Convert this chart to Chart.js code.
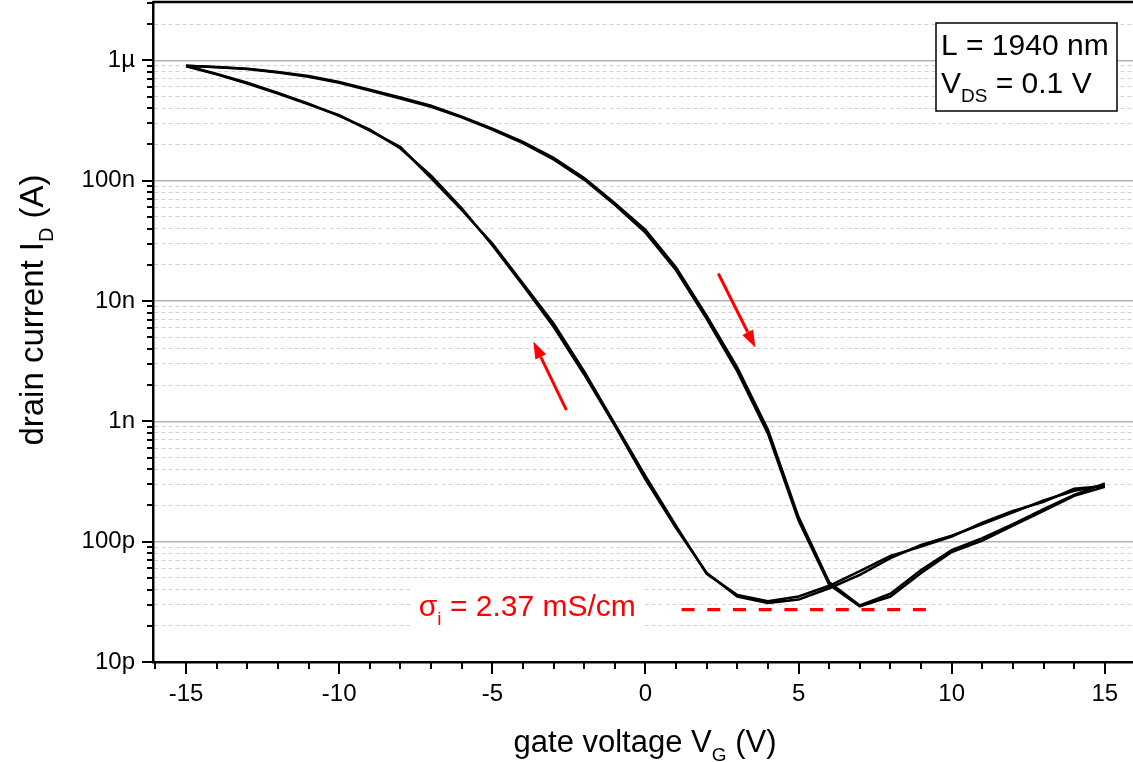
<!DOCTYPE html>
<html>
<head>
<meta charset="utf-8">
<script src="https://cdn.jsdelivr.net/npm/chart.js@4.4.0/dist/chart.umd.min.js"></script>
<style>
  html, body { margin: 0; padding: 0; background: #fff; }
  #wrap { width: 1133px; height: 762px; }
</style>
</head>
<body>
<div id="wrap"><canvas id="chartCanvas" width="1133" height="762"></canvas></div>
<script>
// --- data (two gate sweeps, forward + backward) ---
const gateVoltage = [-15, -14, -13, -12, -11, -10, -9, -8, -7, -6, -5, -4, -3, -2, -1, 0,
  1, 2, 3, 4, 5, 6, 7, 8, 9, 10, 11, 12, 13, 14, 15];

// forward sweeps (-15 V -> 15 V), drain current in A
const fwdSweep1 = [9.0e-7, 8.8e-7, 8.5e-7, 8.0e-7, 7.4e-7, 6.6e-7, 5.7e-7, 4.9e-7, 4.2e-7, 3.4e-7,
  2.7e-7, 2.1e-7, 1.55e-7, 1.05e-7, 6.5e-8, 3.9e-8, 1.9e-8, 7.5e-9, 2.8e-9, 8.5e-10,
  1.6e-10, 4.6e-11, 2.95e-11, 3.7e-11, 5.8e-11, 8.5e-11, 1.07e-10, 1.4e-10, 1.86e-10, 2.45e-10, 3.05e-10];
const fwdSweep2 = [9.0e-7, 8.75e-7, 8.45e-7, 7.9e-7, 7.3e-7, 6.5e-7, 5.6e-7, 4.8e-7, 4.1e-7, 3.35e-7,
  2.65e-7, 2.05e-7, 1.5e-7, 1.02e-7, 6.3e-8, 3.7e-8, 1.8e-8, 7.1e-9, 2.6e-9, 7.9e-10,
  1.5e-10, 4.4e-11, 2.9e-11, 3.5e-11, 5.5e-11, 8.2e-11, 1.02e-10, 1.36e-10, 1.8e-10, 2.4e-10, 2.85e-10];

// backward sweeps (15 V -> -15 V), listed in the same voltage order as gateVoltage
const bwdSweep1 = [8.9e-7, 7.65e-7, 6.4e-7, 5.3e-7, 4.3e-7, 3.5e-7, 2.6e-7, 1.9e-7, 1.05e-7, 5.7e-8,
  3.0e-8, 1.4e-8, 6.5e-9, 2.6e-9, 9.5e-10, 3.5e-10, 1.35e-10, 5.4e-11, 3.6e-11, 3.2e-11,
  3.5e-11, 4.3e-11, 5.7e-11, 7.6e-11, 9.1e-11, 1.1e-10, 1.44e-10, 1.8e-10, 2.14e-10, 2.75e-10, 2.9e-10];
const bwdSweep2 = [9.0e-7, 7.7e-7, 6.5e-7, 5.35e-7, 4.35e-7, 3.45e-7, 2.65e-7, 1.85e-7, 1.1e-7, 5.9e-8,
  2.9e-8, 1.35e-8, 6.1e-9, 2.45e-9, 9.2e-10, 3.3e-10, 1.3e-10, 5.5e-11, 3.5e-11, 3.1e-11,
  3.3e-11, 4.1e-11, 5.3e-11, 7.3e-11, 9.4e-11, 1.12e-10, 1.4e-10, 1.75e-10, 2.2e-10, 2.65e-10, 2.95e-10];

// axes
const xRange = [-16.08, 15.92];
const yRange = [1e-11, 3.05e-6];
const yDecades = [1e-11, 1e-10, 1e-9, 1e-8, 1e-7, 1e-6];
const yDecadeLabels = ["10p", "100p", "1n", "10n", "100n", "1µ"];

// red annotations
const sigmaLineV = [1.18, 9.25];
const sigmaLevel = 2.72e-11;
const sigmaLabelAt = [-7.4, 2.4e-11];
const arrowTails = [[-2.58, 1.24e-9], [2.38, 1.69e-8]];
const arrowHeads = [[-3.66, 4.6e-9], [3.59, 4.11e-9]];

const FONT = "'Liberation Sans', Arial, Helvetica, sans-serif";
Chart.defaults.font.family = FONT;
Chart.defaults.color = "#000";

const isDecade = v => Math.abs(Math.log10(v) - Math.round(Math.log10(v))) < 1e-6;

function sweep(values, reverse) {
  const pts = gateVoltage.map((v, i) => ({ x: v, y: values[i] }));
  return reverse ? pts.reverse() : pts;
}

const curveStyle = { borderColor: "#000", borderWidth: 2.5, pointRadius: 0, fill: false, tension: 0 };

// draw text made of normal and subscript parts
function subText(ctx, parts, x, y, size, align) {
  const subSize = Math.round(size * 0.62);
  const widths = parts.map(p => {
    ctx.font = `${p.sub ? subSize : size}px ${FONT}`;
    return ctx.measureText(p.t).width;
  });
  const total = widths.reduce((a, b) => a + b, 0);
  let cx = align === "center" ? x - total / 2 : x;
  ctx.textAlign = "left";
  ctx.textBaseline = "alphabetic";
  parts.forEach((p, i) => {
    ctx.font = `${p.sub ? subSize : size}px ${FONT}`;
    ctx.fillText(p.t, cx, p.sub ? y + size * 0.3 : y);
    cx += widths[i];
  });
  return total;
}

const annotations = {
  id: "annotations",
  beforeDatasetsDraw(chart) {
    const { ctx, chartArea: a, scales: { x, y } } = chart;
    ctx.save();
    ctx.fillStyle = "#fff";
    // white backing of the parameter box
    ctx.fillRect(a.right - 197, a.top + 21, 181, 88);
    // white backing of the sigma label
    const lx = x.getPixelForValue(sigmaLabelAt[0]);
    const ly = y.getPixelForValue(sigmaLabelAt[1]);
    ctx.fillRect(lx - 6, ly - 29, 232, 54);
    ctx.restore();
  },
  afterDraw(chart) {
    const { ctx, chartArea: a, scales: { x, y } } = chart;
    ctx.save();

    // tick marks: long on labelled ticks, short on minor ones
    ctx.strokeStyle = "#000";
    ctx.lineWidth = 2;
    x.ticks.forEach(t => {
      const px = Math.round(x.getPixelForValue(t.value));
      const len = t.value % 5 === 0 ? 12 : 7;
      ctx.beginPath(); ctx.moveTo(px, a.bottom); ctx.lineTo(px, a.bottom + len); ctx.stroke();
    });
    y.ticks.forEach(t => {
      const py = Math.round(y.getPixelForValue(t.value));
      const len = isDecade(t.value) ? 11 : 6;
      ctx.beginPath(); ctx.moveTo(a.left, py); ctx.lineTo(a.left - len, py); ctx.stroke();
    });

    // top frame line
    ctx.lineWidth = 2.5;
    ctx.beginPath(); ctx.moveTo(a.left, a.top); ctx.lineTo(a.right, a.top); ctx.stroke();

    // axis titles
    ctx.fillStyle = "#000";
    subText(ctx, [{ t: "gate voltage V" }, { t: "G", sub: true }, { t: " (V)" }], 645, 752, 31, "center");
    ctx.save();
    ctx.translate(43, 310);
    ctx.rotate(-Math.PI / 2);
    subText(ctx, [{ t: "drain current I" }, { t: "D", sub: true }, { t: " (A)" }], 0, 0, 33, "center");
    ctx.restore();

    // parameter box
    const bx = a.right - 197, by = a.top + 21;
    ctx.strokeStyle = "#000";
    ctx.lineWidth = 1.5;
    ctx.strokeRect(bx, by, 181, 88);
    subText(ctx, [{ t: "L = 1940 nm" }], bx + 5, by + 32, 30, "left");
    subText(ctx, [{ t: "V" }, { t: "DS", sub: true }, { t: " = 0.1 V" }], bx + 5, by + 70, 30, "left");

    // sigma label
    ctx.fillStyle = "#ff0000";
    subText(ctx, [{ t: "σ" }, { t: "i", sub: true }, { t: " = 2.37 mS/cm" }],
      x.getPixelForValue(sigmaLabelAt[0]), y.getPixelForValue(sigmaLabelAt[1]), 30, "left");

    // sweep direction arrows
    ctx.strokeStyle = "#ff0000";
    ctx.lineWidth = 3;
    arrowTails.forEach((tail, i) => {
      const x0 = x.getPixelForValue(tail[0]), y0 = y.getPixelForValue(tail[1]);
      const x1 = x.getPixelForValue(arrowHeads[i][0]), y1 = y.getPixelForValue(arrowHeads[i][1]);
      const ang = Math.atan2(y1 - y0, x1 - x0);
      const hl = 17, hw = 6;
      const bx0 = x1 - hl * Math.cos(ang), by0 = y1 - hl * Math.sin(ang);
      ctx.beginPath(); ctx.moveTo(x0, y0); ctx.lineTo(bx0, by0); ctx.stroke();
      ctx.beginPath();
      ctx.moveTo(x1, y1);
      ctx.lineTo(bx0 + hw * Math.sin(ang), by0 - hw * Math.cos(ang));
      ctx.lineTo(bx0 - hw * Math.sin(ang), by0 + hw * Math.cos(ang));
      ctx.closePath();
      ctx.fill();
    });
    ctx.restore();
  }
};

const canvas = document.getElementById("chartCanvas");
new Chart(canvas, {
  type: "line",
  data: {
    datasets: [
      { label: "forward 1", data: sweep(fwdSweep1), ...curveStyle },
      { label: "backward 1", data: sweep(bwdSweep1, true), ...curveStyle },
      { label: "forward 2", data: sweep(fwdSweep2), ...curveStyle },
      { label: "backward 2", data: sweep(bwdSweep2, true), ...curveStyle },
      {
        label: "sigma_i level",
        data: sigmaLineV.map(v => ({ x: v, y: sigmaLevel })),
        borderColor: "#ff0000", borderWidth: 3.2, borderDash: [13, 12.7], pointRadius: 0
      }
    ]
  },
  options: {
    responsive: false,
    animation: false,
    events: [],
    layout: { padding: { top: 2, right: 0, left: 0, bottom: 0 } },
    plugins: { legend: { display: false }, tooltip: { enabled: false } },
    scales: {
      x: {
        type: "linear",
        min: xRange[0],
        max: xRange[1],
        afterFit: s => { s.height = 100; s.paddingLeft = 0; s.paddingRight = 0; },
        afterBuildTicks: s => {
          const t = [];
          for (let v = Math.ceil(xRange[0]); v <= Math.floor(xRange[1]); v++) t.push({ value: v });
          s.ticks = t;
        },
        ticks: {
          autoSkip: false, maxRotation: 0, padding: 6,
          font: { size: 24 },
          callback: v => (v % 5 === 0 ? String(v) : "")
        },
        grid: { drawOnChartArea: false, tickLength: 12, tickColor: "transparent" },
        border: { color: "#000", width: 2.5 }
      },
      y: {
        type: "logarithmic",
        min: yRange[0],
        max: yRange[1],
        afterFit: s => { s.width = 153; s.paddingTop = 0; s.paddingBottom = 0; },
        afterBuildTicks: s => {
          const t = [];
          yDecades.forEach(d => {
            for (let m = 1; m <= 9; m++) if (d * m <= yRange[1] * 1.0001) t.push({ value: d * m });
          });
          s.ticks = t;
        },
        ticks: {
          autoSkip: false, padding: 8,
          font: { size: 24 },
          callback: v => {
            const i = yDecades.findIndex(d => Math.abs(d - v) / d < 1e-6);
            return i >= 0 ? yDecadeLabels[i] : "";
          }
        },
        grid: {
          tickLength: 10,
          tickColor: "transparent",
          lineWidth: c => (c.tick && isDecade(c.tick.value) ? 1.5 : 1),
          color: c => {
            if (!c.tick || c.tick.value <= yRange[0]) return "transparent";
            return isDecade(c.tick.value) ? "#b3b3b3" : "#d2d2d2";
          }
        },
        border: {
          color: "#000", width: 2.5,
          dash: c => (c.tick && !isDecade(c.tick.value) ? [4, 3] : [])
        }
      }
    }
  },
  plugins: [annotations]
});
</script>
</body>
</html>
